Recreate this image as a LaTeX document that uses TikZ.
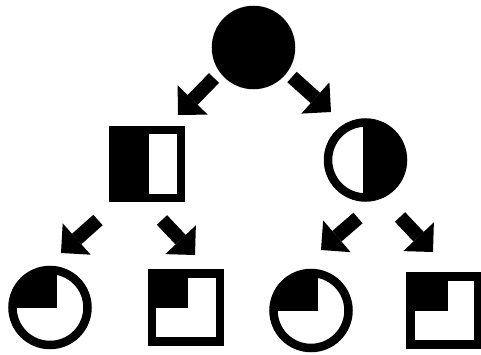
\documentclass[tikz,border=0pt]{standalone}
\usetikzlibrary{arrows.meta}
\tikzset{
  ped/.style={draw=black, line width=8.5pt, inner sep=0pt, outer sep=0pt, fill=white},
  pcirc/.style={ped, circle, minimum size=75pt},
  psq/.style={ped, rectangle, minimum size=68pt},
  lhalf/.style={path picture={\fill[black] (path picture bounding box.north west) rectangle ([xshift=#1]path picture bounding box.south);}},
  rhalf/.style={path picture={\fill[black] ([xshift=#1]path picture bounding box.north) rectangle (path picture bounding box.south east);}},
  qtr/.style={path picture={\fill[black] (path picture bounding box.north west) rectangle ([xshift=#1]path picture bounding box.center);}},
  arr/.style={-{Triangle[length=21pt, width=42pt, line width=0pt]}, line width=14pt},
}
\begin{document}
\begin{tikzpicture}[x=1pt, y=-1pt]
      \useasboundingbox (0,0) rectangle (481,355);
      \node[pcirc, fill=black] (top) at (253.5,47.5) {};
      \node[psq, lhalf=2pt] (son) at (147,164) {};
      \node[pcirc, rhalf=-2.5pt] (dau) at (365.5,160) {};
      \node[pcirc, qtr=7pt] (gc1) at (50,307.5) {};
      \node[psq, qtr=2pt] (gc2) at (186,307.5) {};
      \node[pcirc, qtr=7pt] (gc3) at (311,310.5) {};
      \node[psq, qtr=3pt] (gc4) at (444.5,310.5) {};
      \coordinate (t1) at (214,78);   \coordinate (h1) at (178,115);
      \coordinate (t2) at (292,77);   \coordinate (h2) at (331,112);
      \coordinate (t3) at (98,220);   \coordinate (h3) at (61,253);
      \coordinate (t4) at (162,220);  \coordinate (h4) at (195,255);
      \coordinate (t5) at (358,218);  \coordinate (h5) at (321,250);
      \coordinate (t6) at (400,217);  \coordinate (h6) at (433,252);
      \draw[arr] (t1) -- (h1);
      \draw[arr] (t2) -- (h2);
      \draw[arr] (t3) -- (h3);
      \draw[arr] (t4) -- (h4);
      \draw[arr] (t5) -- (h5);
      \draw[arr] (t6) -- (h6);
    \end{tikzpicture}
\end{document}
